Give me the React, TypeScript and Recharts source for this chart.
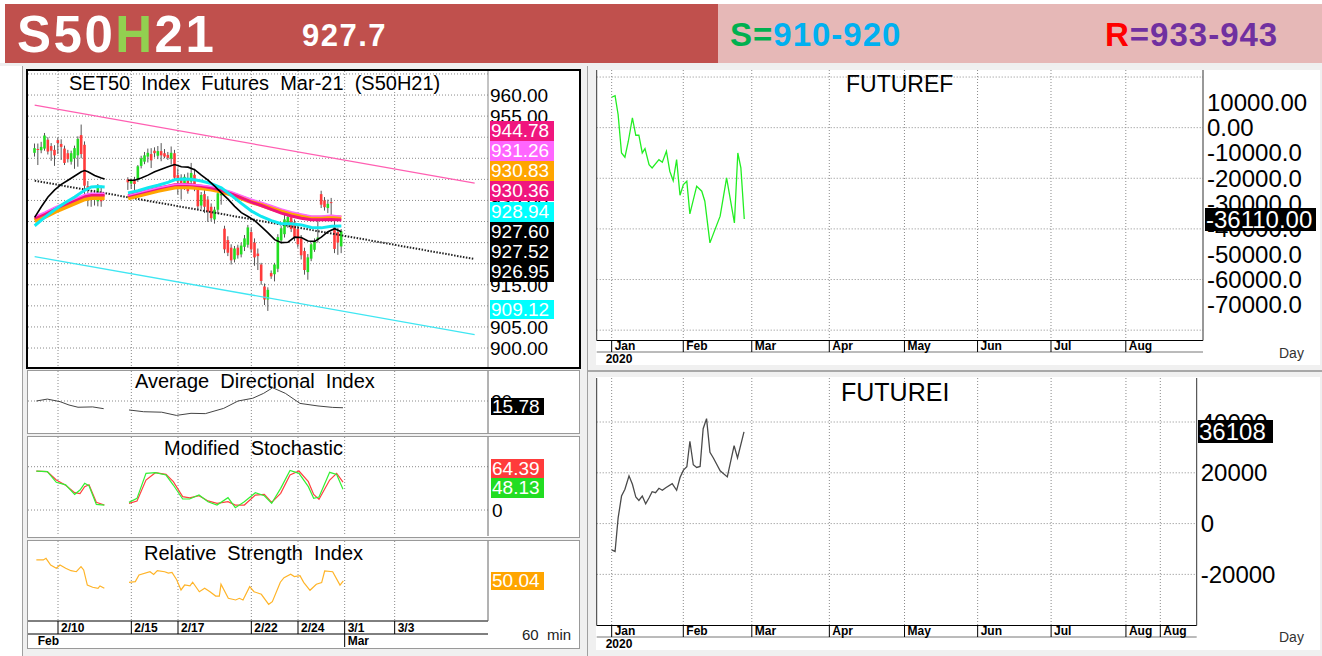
import React from 'react';
import { ComposedChart, Line, Bar, XAxis, YAxis, CartesianGrid } from 'recharts';

const FONT = '"Liberation Sans", Arial, Helvetica, sans-serif';

// ---------- 60 min panel (x = bar number) ----------
const dateTicks = [7, 29, 43, 65, 79, 93, 108];
const dateLabels = ['2/10', '2/15', '2/17', '2/22', '2/24', '3/1', '3/3'];
const monthTicks = [0, 93];
const monthLabels = ['Feb', 'Mar'];
const priceTicks = [900, 905, 910, 915, 920, 925, 930, 935, 940, 945, 950, 955, 960];
const priceGrid = [900, 905, 910, 915, 920, 925, 930, 935, 940, 945, 950, 955, 960, 965];

// [bar, open, high, low, close]
const candles = [
  [0, 946.3, 948.5, 945.4, 947.4], [1, 947.2, 948.5, 943.4, 947.0], [2, 946.9, 948.9, 946.2, 947.7],
  [3, 947.3, 951.0, 946.8, 950.4], [4, 949.4, 950.0, 945.9, 946.6], [5, 947.9, 948.6, 944.4, 946.8],
  [6, 947.0, 948.1, 943.2, 945.7], [7, 949.3, 949.9, 946.0, 948.6], [8, 948.4, 949.5, 944.6, 947.7],
  [9, 947.3, 948.0, 943.4, 943.9], [10, 946.2, 947.0, 944.0, 944.8], [11, 944.2, 946.8, 943.5, 946.2],
  [12, 945.0, 948.0, 942.5, 947.4], [13, 945.7, 950.2, 943.0, 949.6], [14, 950.5, 953.0, 945.0, 946.0],
  [15, 948.2, 949.0, 936.5, 938.5], [16, 938.4, 939.6, 933.6, 937.6], [17, 935.2, 937.5, 933.5, 936.0],
  [18, 936.4, 937.5, 933.8, 935.4], [19, 934.8, 938.9, 933.6, 938.2], [20, 937.0, 938.5, 933.5, 934.8],
  [28, 940.0, 940.5, 937.5, 939.3], [29, 939.0, 940.2, 937.8, 939.8], [30, 939.6, 940.6, 937.3, 938.9],
  [31, 939.9, 943.4, 939.4, 943.1], [32, 943.2, 945.6, 942.6, 945.0], [33, 944.2, 946.5, 943.6, 945.7],
  [34, 945.4, 947.3, 944.0, 946.3], [35, 946.0, 947.4, 942.7, 944.5], [36, 946.8, 947.6, 945.2, 946.2],
  [37, 945.6, 947.9, 944.8, 946.7], [38, 946.7, 948.6, 944.3, 945.7], [39, 946.2, 947.2, 945.0, 945.4],
  [40, 945.8, 946.5, 944.6, 945.1], [41, 944.9, 947.8, 943.5, 946.3], [42, 946.2, 947.0, 940.0, 940.4],
  [43, 941.0, 942.6, 936.4, 939.5], [44, 940.4, 941.2, 935.2, 939.1], [45, 938.7, 941.2, 937.5, 940.6],
  [46, 940.3, 941.6, 936.6, 937.2], [47, 939.5, 943.9, 938.7, 941.5], [48, 941.1, 942.5, 937.2, 937.9],
  [49, 937.9, 938.6, 932.8, 933.6], [50, 933.8, 937.0, 933.0, 936.3], [51, 936.5, 937.8, 932.0, 933.5],
  [52, 935.2, 936.0, 929.9, 932.3], [53, 933.5, 934.3, 930.0, 930.8], [54, 930.5, 933.5, 929.5, 932.8],
  [55, 932.8, 937.2, 931.8, 936.7], [56, 936.2, 937.5, 934.0, 936.6], [57, 928.3, 929.0, 922.5, 923.4],
  [58, 925.6, 926.5, 921.8, 922.6], [59, 923.8, 924.6, 919.8, 920.8], [60, 921.0, 924.2, 920.3, 923.6],
  [61, 923.8, 924.5, 921.2, 922.0], [62, 922.2, 925.0, 921.5, 924.3], [63, 924.0, 926.8, 923.0, 926.0],
  [64, 924.5, 929.2, 923.8, 928.6], [65, 927.5, 928.5, 922.6, 923.4], [66, 925.0, 926.0, 919.5, 921.5],
  [67, 922.4, 923.6, 918.5, 921.8], [68, 919.8, 920.2, 915.0, 915.9], [69, 914.6, 915.3, 910.2, 911.5],
  [70, 911.5, 914.4, 908.8, 913.8], [71, 917.8, 918.4, 916.4, 917.0], [72, 917.5, 920.2, 915.8, 919.8],
  [73, 918.8, 927.0, 918.0, 926.3], [74, 925.5, 928.9, 924.8, 928.4], [75, 927.0, 931.6, 926.2, 930.5],
  [76, 929.3, 931.8, 928.5, 931.1], [77, 931.0, 931.6, 927.5, 928.2], [78, 929.8, 930.5, 925.4, 926.2],
  [79, 928.2, 929.0, 923.8, 924.6], [80, 926.0, 926.8, 921.0, 922.0], [81, 923.0, 923.8, 917.4, 918.5],
  [82, 918.0, 922.3, 916.2, 921.5], [83, 921.2, 925.0, 920.6, 924.6], [84, 923.3, 926.0, 922.8, 925.2],
  [85, 925.8, 931.0, 925.0, 926.2], [86, 936.5, 937.3, 933.2, 934.0], [87, 935.0, 935.8, 932.6, 933.4],
  [88, 933.2, 935.2, 932.0, 934.2], [89, 934.6, 935.6, 930.0, 934.4], [90, 929.0, 930.5, 922.5, 923.5],
  [91, 927.5, 928.5, 922.1, 925.0], [92, 924.1, 928.2, 922.5, 927.7],
];

// moving averages, [bar, value]; null marks the holiday gap
const maBlack = [
  [0, 931], [2, 933.5], [4, 935.8], [6, 937.5], [8, 938.8], [10, 939.8], [12, 940.8], [14, 941.8], [15, 942.1],
  [16, 941.8], [18, 940.9], [20, 940.3], [21, 940.1], [24, null],
  [28, 939.8], [30, 939.8], [32, 940.3], [34, 941], [36, 941.8], [38, 942.4], [40, 943], [42, 943.5], [44, 943],
  [46, 942.9], [48, 942.3], [50, 941], [52, 939.8], [54, 938.4], [56, 936.8], [58, 935.3], [60, 933.6], [62, 932.1],
  [64, 931.2], [66, 930.2], [68, 928.8], [70, 927.3], [72, 925.7], [74, 925], [76, 925.1], [78, 926.3], [80, 926.2],
  [82, 925.4], [84, 925.3], [86, 926.3], [88, 927.6], [90, 928.3], [92, 927.6],
];
const maCyan = [
  [0, 929], [3, 931], [6, 932.8], [9, 934.4], [12, 935.8], [15, 937.4], [17, 938.2], [19, 938.3], [21, 938.2], [24, null],
  [28, 936.8], [31, 937.3], [34, 938], [37, 938.6], [40, 939.3], [42, 939.9], [44, 940.1], [47, 940], [50, 939.6],
  [53, 939], [56, 938], [59, 936.2], [62, 934.3], [65, 932.5], [68, 931.2], [71, 930.2], [74, 929.5], [77, 929.5],
  [80, 929.2], [83, 928.6], [86, 928.5], [89, 928.9], [92, 928.94],
];
const maOrange = [
  [0, 930.2], [3, 931.2], [6, 932.4], [9, 933.4], [12, 934.4], [15, 935.4], [17, 935.7], [19, 935.7], [21, 935.7], [24, null],
  [28, 935.6], [31, 936.2], [34, 936.8], [37, 937.4], [40, 937.9], [42, 938.2], [44, 938.3], [47, 938.2], [50, 938],
  [53, 937.7], [56, 937.2], [59, 936.5], [62, 935.6], [65, 934.7], [68, 934], [71, 933.2], [74, 932.4], [77, 931.7],
  [80, 931.2], [83, 930.8], [86, 930.8], [89, 931], [92, 930.83],
];
const maMagenta = [
  [0, 930.8], [3, 931.8], [6, 933], [9, 934], [12, 935], [15, 936], [17, 936.3], [19, 936.3], [21, 936.3], [24, null],
  [28, 936.1], [31, 936.7], [34, 937.3], [37, 937.9], [40, 938.4], [42, 938.7], [44, 938.8], [47, 938.7], [50, 938.4],
  [53, 938], [56, 937.4], [59, 936.6], [62, 935.6], [65, 934.6], [68, 933.8], [71, 932.9], [74, 932], [77, 931.3],
  [80, 930.8], [83, 930.4], [86, 930.4], [89, 930.5], [92, 930.36],
];
const maViolet = [
  [0, 931.2], [3, 932.2], [6, 933.4], [9, 934.4], [12, 935.4], [15, 936.4], [17, 936.7], [19, 936.7], [21, 936.7], [24, null],
  [28, 936.2], [31, 936.8], [34, 937.4], [37, 938], [40, 938.5], [42, 938.8], [44, 938.9], [47, 938.8], [50, 938.6],
  [53, 938.3], [56, 937.8], [59, 937.1], [62, 936.2], [65, 935.3], [68, 934.6], [71, 933.8], [74, 933], [77, 932.3],
  [80, 931.8], [83, 931.3], [86, 931.3], [89, 931.5], [92, 931.26],
];
const channelUp = [[0, 957.6], [132, 939.1]];
const channelMid = [[0, 939.7], [132, 921.1]];
const channelLow = [[0, 921.7], [132, 903.2]];

const mainTagValues = ['944.78', '931.26', '930.83', '930.36', '928.94', '927.60', '927.52', '926.95'];

// ADX [bar, value]
const adx = [
  [0.5, 20], [3.8, 21.2], [7.6, 19.6], [10.3, 17.5], [13, 16.1], [17.4, 16.3], [20.7, 15.2], [24, null],
  [28.3, 14.4], [32.7, 13.3], [38.1, 13], [42.5, 11], [46.9, 12.3], [51.2, 12.1], [56.7, 15.4], [61, 20],
  [65.4, 21.7], [68.7, 24.8], [71.4, 28.3], [75.2, 24.8], [79.6, 18.5], [85, 16.9], [89.4, 16], [92.5, 15.78],
];

// modified stochastic [bar, slow(red), fast(green)]
const stoch = [
  [0.5, 90, 90], [3.8, 88.5, 88.5], [6.5, 69.3, 63.9], [9.3, 57, 58], [12, 40, 36.2], [13.6, 38, 46],
  [15, 53.9, 61.6], [16.3, 58.5, 56], [18.5, 17.7, 13], [20.9, 11.5, 11.5], [24, null, null],
  [28.3, 15.4, 17.7], [30.7, 20.8, 26.9], [33.4, 69.3, 84.6], [36.2, 86.2, 86.2], [39.4, 82.3, 80.8],
  [41.6, 65.4, 57.7], [44.4, 30.8, 25.4], [46.5, 28, 25.4], [49.3, 33, 34.6], [52, 21, 19.2], [54.7, 15.4, 11.5],
  [58, 19.2, 28.5], [60.2, 11.5, 5.4], [62.9, 11.5, 19], [66.2, 34.6, 40], [68.9, 36, 33], [71.1, 17.7, 15.5],
  [73.8, 38.5, 50], [76.6, 80.8, 91.5], [79.3, 90, 84.6], [82.1, 65.4, 53.9], [83.7, 36, 26.9], [85.3, 24.6, 30],
  [88.5, 69.3, 87], [90.6, 84.6, 82], [92.5, 64.39, 48.13],
];

// RSI [bar, value]
const rsi = [
  [0.5, 70.4], [2.6, 70.4], [3.4, 72], [4.8, 65.5], [6.5, 62.3], [7.6, 65.5], [9.3, 62.3], [10.9, 60], [12.5, 59],
  [13.9, 63.9], [14.7, 60.7], [15.8, 46.1], [17.4, 43.9], [19, 42.9], [19.6, 45.2], [20.9, 42.9], [24, null],
  [28.3, 48.7], [30.2, 49.4], [31.3, 55.8], [34.6, 59], [35.7, 56.4], [36.8, 60], [39, 59], [40.1, 57.7],
  [41.2, 58.3], [42.6, 51.3], [43.9, 41.3], [45, 46.1], [46.6, 45.2], [47.4, 48.8], [49.4, 39.6], [51, 42.9],
  [52.6, 39.6], [54.3, 35.4], [55.4, 35.4], [55.9, 46.8], [58.1, 33.2], [60.3, 31.6], [61.4, 33.2], [62.5, 31.6],
  [64.5, 44.5], [65.8, 39.6], [68, 37.1], [70.2, 27.4], [71.3, 30], [73.7, 48.8], [74.8, 53.2], [76.8, 56.5],
  [77.9, 54.3], [79.6, 55.2], [80.7, 48.7], [82.6, 41], [84.5, 46.8], [86.1, 48.4], [87, 59.7], [89.4, 59],
  [91.6, 46], [92.6, 50.04],
];

// ---------- daily panels (x = trading day from 1 Jan 2020) ----------
const dayTicks = [0, 21.06, 41.2, 64, 86.1, 107.6, 129.2, 151.2];
const dayLabels = ['Jan', 'Feb', 'Mar', 'Apr', 'May', 'Jun', 'Jul', 'Aug'];
const dayTicksI = [0, 21.06, 41.2, 64, 86.1, 107.6, 129.2, 151.2, 161.3];
const dayLabelsI = ['Jan', 'Feb', 'Mar', 'Apr', 'May', 'Jun', 'Jul', 'Aug', 'Aug'];

const futureF = [
  [0, 12000], [1, 12630], [1.9, 5130], [2.9, -9990], [3.9, -11690], [4.9, -5370], [6.1, 3830], [7.1, -3000],
  [8, -3000], [9, -9990], [9.8, -8290], [11, -14600], [11.9, -15910], [13.9, -12630], [14.9, -13660],
  [16.1, -9320], [17.1, -17210], [18.1, -20920], [19.1, -12630], [20.1, -26690], [21.1, -22500], [22.1, -21160],
  [23, -34070], [25, -23130], [26.5, -25110], [27.4, -29060], [28.9, -45520], [29.9, -41970], [31.9, -34980],
  [33.8, -19860], [36.1, -37620], [37.1, -9990], [38, -15910], [39, -36110],
];
const futureFTicks = [10000, 0, -10000, -20000, -30000, -40000, -50000, -60000, -70000];
const futureFGrid = [20000, 0, -20000, -40000, -60000, -80000];

const futureI = [
  [0, -10330], [1, -11000], [1.9, 2220], [2.9, 10850], [3.9, 13510], [5.1, 18790], [6.1, 15490], [7.1, 10450],
  [8, 9140], [9, 10850], [10, 7790], [11, 10170], [11.9, 12560], [12.9, 12160], [13.9, 13910], [14.9, 13110],
  [15.9, 14140], [17.8, 15730], [19.1, 13110], [20.1, 18120], [21.1, 21060], [22.1, 22370], [23, 32420],
  [24, 23160], [25, 22090], [26, 22490], [26.9, 37350], [27.9, 41320], [28.9, 28050], [29.9, 25820],
  [31.9, 20780], [34, 18390], [36, 30710], [37, 25820], [38.9, 36108],
];
const futureITicks = [40000, 20000, 0, -20000];

const pairs = (arr: any[]) => arr.map(([i, v]) => ({ i, v }));
const candleRows = candles.map(([i, o, h, l, c]) => ({ i, o, h, l, c }));
const stochRows = stoch.map(([i, r, g]) => ({ i, r, g }));

const Candle = (props: any) => {
  const { x, y, width, height, payload } = props;
  if (!payload || payload.h === payload.l) return null;
  const top = Math.min(y, y + height);
  const hgt = Math.abs(height);
  const ppu = hgt / (payload.h - payload.l);
  const cx = x + width / 2;
  const bTop = top + (payload.h - Math.max(payload.o, payload.c)) * ppu;
  const bH = Math.max(1, Math.abs(payload.o - payload.c) * ppu);
  const up = payload.c >= payload.o;
  return (
    <g>
      <line x1={cx} x2={cx} y1={top} y2={top + hgt} stroke="#555" strokeWidth={1} />
      <rect x={cx - 1.3} y={bTop} width={2.6} height={bH} fill={up ? '#22DD22' : '#FF3B3B'} />
    </g>
  );
};

const SepTick = (props: any) => {
  const { x, y, payload, ticks, labels, h, line = true } = props;
  const k = ticks.indexOf(payload.value);
  return (
    <g>
      {line && <line x1={x} x2={x} y1={y} y2={y + h} stroke="#000" strokeWidth={1} />}
      <text x={x + 3} y={y + h - 2} fontSize={12} fontWeight="bold" fill="#000" fontFamily={FONT}>
        {labels[k]}
      </text>
    </g>
  );
};

const Box = ({ left, top, w, h, bg, children, size = 19 }: any) => (
  <div style={{ position: 'absolute', left, top, width: w, height: h, background: bg, color: '#fff', fontSize: size, lineHeight: h + 'px', paddingLeft: 1, boxSizing: 'border-box', whiteSpace: 'nowrap' }}>
    {children}
  </div>
);

const Txt = ({ left, top, size, children, style }: any) => (
  <div style={{ position: 'absolute', left, top, fontSize: size, lineHeight: size + 'px', whiteSpace: 'pre', color: '#000', ...style }}>
    {children}
  </div>
);

const grid = { stroke: '#8a8a8a', strokeDasharray: '1 2' };
const noMargin = { top: 0, right: 0, bottom: 0, left: 0 };

function MainChart() {
  return (
    <ComposedChart width={551} height={296} data={candleRows} margin={noMargin}>
      <CartesianGrid {...grid} horizontalValues={priceGrid} verticalValues={dateTicks} />
      <XAxis dataKey="i" type="number" domain={[-2, 136]} allowDataOverflow hide ticks={dateTicks} />
      <YAxis orientation="right" width={91} domain={[895.5, 965.7]} allowDataOverflow ticks={priceTicks} interval={0}
        tickFormatter={(v: number) => v.toFixed(2)} tick={{ fontSize: 19, fill: '#000', fontFamily: FONT, textAnchor: 'start' }}
        tickLine={false} tickSize={0} tickMargin={2} axisLine={{ stroke: '#888' }} />
      <Line data={pairs(channelUp)} dataKey="v" stroke="#FF5FB2" strokeWidth={1.3} dot={false} isAnimationActive={false} />
      <Line data={pairs(channelLow)} dataKey="v" stroke="#3FE6F2" strokeWidth={1.3} dot={false} isAnimationActive={false} />
      <Line data={pairs(channelMid)} dataKey="v" stroke="#222" strokeWidth={2} strokeDasharray="1.5 1.5" dot={false} isAnimationActive={false} />
      <Bar dataKey={(d: any) => [d.l, d.h]} barSize={3} shape={(p: any) => <Candle {...p} />} isAnimationActive={false} />
      <Line data={pairs(maOrange)} dataKey="v" stroke="#FFA500" strokeWidth={5} dot={false} isAnimationActive={false} />
      <Line data={pairs(maMagenta)} dataKey="v" stroke="#F0147D" strokeWidth={3} dot={false} isAnimationActive={false} />
      <Line data={pairs(maViolet)} dataKey="v" stroke="#FF66FF" strokeWidth={1.5} dot={false} isAnimationActive={false} />
      <Line data={pairs(maCyan)} dataKey="v" stroke="#10E8F0" strokeWidth={3} dot={false} isAnimationActive={false} />
      <Line data={pairs(maBlack)} dataKey="v" stroke="#000" strokeWidth={1.6} dot={false} isAnimationActive={false} />
    </ComposedChart>
  );
}

function AdxChart() {
  return (
    <ComposedChart width={551} height={62} data={pairs(adx)} margin={noMargin}>
      <CartesianGrid {...grid} horizontalValues={[20]} verticalValues={dateTicks} />
      <XAxis dataKey="i" type="number" domain={[-2, 136]} allowDataOverflow hide ticks={dateTicks} />
      <YAxis orientation="right" width={91} domain={[0, 38.75]} allowDataOverflow ticks={[20]} interval={0}
        tick={{ fontSize: 19, fill: '#000', fontFamily: FONT, textAnchor: 'start' }} tickLine={false} tickSize={0} tickMargin={3} axisLine={{ stroke: '#666' }} />
      <Line dataKey="v" stroke="#444" strokeWidth={1} dot={false} isAnimationActive={false} />
    </ComposedChart>
  );
}

function StochChart() {
  return (
    <ComposedChart width={551} height={99} data={stochRows} margin={noMargin}>
      <CartesianGrid {...grid} horizontalValues={[0, 100]} verticalValues={dateTicks} />
      <XAxis dataKey="i" type="number" domain={[-2, 136]} allowDataOverflow hide ticks={dateTicks} />
      <YAxis orientation="right" width={91} domain={[-60, 168.6]} allowDataOverflow ticks={[0]} interval={0}
        tick={{ fontSize: 19, fill: '#000', fontFamily: FONT, textAnchor: 'start' }} tickLine={false} tickSize={0} tickMargin={4} axisLine={{ stroke: '#666' }} />
      <Line dataKey="r" stroke="#FF4040" strokeWidth={1.2} dot={false} isAnimationActive={false} />
      <Line dataKey="g" stroke="#33F033" strokeWidth={1.2} dot={false} isAnimationActive={false} />
    </ComposedChart>
  );
}

function RsiChart() {
  return (
    <ComposedChart width={551} height={106} data={pairs(rsi)} margin={noMargin}>
      <CartesianGrid {...grid} xAxisId="d" horizontalValues={[50]} verticalValues={dateTicks} />
      <XAxis xAxisId="d" dataKey="i" type="number" domain={[-2, 136]} allowDataOverflow ticks={dateTicks} interval={0} height={13}
        tickSize={0} tickMargin={0} tickLine={false} axisLine={{ stroke: '#000' }}
        tick={(p: any) => <SepTick {...p} ticks={dateTicks} labels={dateLabels} h={13} />} />
      <XAxis xAxisId="m" dataKey="i" type="number" domain={[-2, 136]} allowDataOverflow ticks={monthTicks} interval={0} height={13}
        tickSize={0} tickMargin={0} tickLine={false} axisLine={{ stroke: '#000' }}
        tick={(p: any) => <SepTick {...p} ticks={monthTicks} labels={monthLabels} h={13} line={p.payload.value !== 0} />} />
      <YAxis orientation="right" width={91} domain={[11.2, 88.8]} allowDataOverflow ticks={[50]} tick={false} tickLine={false} axisLine={{ stroke: '#666' }} />
      <Line xAxisId="d" dataKey="v" stroke="#FFB428" strokeWidth={1.2} dot={false} isAnimationActive={false} />
    </ComposedChart>
  );
}

function DailyChart({ data, color, height, domain, ticks, fmt, grid: gv, xTicks, xLabels, xMax, yWidth }: any) {
  return (
    <ComposedChart width={730} height={height} data={pairs(data)} margin={{ top: 2, right: 0, bottom: 0, left: 6.7 }}>
      <CartesianGrid {...grid} xAxisId="m" yAxisId="r" horizontalValues={gv} verticalValues={xTicks} />
      <XAxis xAxisId="m" dataKey="i" type="number" domain={[-4.4, xMax]} allowDataOverflow ticks={xTicks} interval={0} height={11.5}
        tickSize={0} tickMargin={0} tickLine={false} axisLine={{ stroke: '#000' }}
        tick={(p: any) => <SepTick {...p} ticks={xTicks} labels={xLabels} h={11.5} />} />
      <XAxis xAxisId="y" dataKey="i" type="number" domain={[-4.4, xMax]} allowDataOverflow ticks={[0]} interval={0} height={13}
        tickSize={0} tickMargin={0} tickLine={false} axisLine={{ stroke: '#777' }}
        tick={(p: any) => <text x={p.x - 6} y={p.y + 11} fontSize={12} fontWeight="bold" fill="#000" fontFamily={FONT}>2020</text>} />
      <YAxis yAxisId="l" orientation="left" mirror width={6} domain={domain} allowDataOverflow ticks={ticks} interval={0}
        tick={false} tickSize={3} tickLine={{ stroke: '#333' }} axisLine={{ stroke: '#333' }} />
      <YAxis yAxisId="r" orientation="right" width={yWidth} domain={domain} allowDataOverflow ticks={ticks} interval={0}
        tickFormatter={fmt} tick={{ fontSize: 24, fill: '#000', fontFamily: FONT, textAnchor: 'start' }}
        tickLine={false} tickSize={0} tickMargin={4} axisLine={{ stroke: '#333' }} />
      <Line xAxisId="m" yAxisId="r" dataKey="v" stroke={color} strokeWidth={1.3} dot={false} isAnimationActive={false} />
    </ComposedChart>
  );
}

const fmtF = (v: number) => (v === 10000 ? '10000.00' : v === 0 ? '0.00' : v.toFixed(1));

export default function App() {
  return (
    <div style={{ position: 'absolute', left: 0, top: 0, width: 1322, height: 656, background: '#fff', fontFamily: FONT, overflow: 'hidden' }}>
      {/* header */}
      <div style={{ position: 'absolute', left: 5, top: 4, width: 713, height: 59, background: '#C0504D' }} />
      <div style={{ position: 'absolute', left: 718, top: 4, width: 604, height: 59, background: '#E6B8B7' }} />
      <Txt left={17} top={9} size={51} style={{ fontWeight: 'bold', color: '#fff', letterSpacing: 2.5 }}>
        S50<span style={{ color: '#92D050' }}>H</span>21
      </Txt>
      <Txt left={302} top={20} size={31} style={{ fontWeight: 'bold', color: '#fff', letterSpacing: 1.5 }}>927.7</Txt>
      <Txt left={730} top={18} size={33} style={{ fontWeight: 'bold', letterSpacing: 1 }}>
        <span style={{ color: '#00B050' }}>S=</span><span style={{ color: '#00B0F0' }}>910-920</span>
      </Txt>
      <Txt left={1105} top={18} size={33} style={{ fontWeight: 'bold', letterSpacing: 1 }}>
        <span style={{ color: '#FF0000' }}>R</span><span style={{ color: '#7030A0' }}>=933-943</span>
      </Txt>
      <div style={{ position: 'absolute', left: 0, top: 63, width: 1322, height: 3, background: '#EFEFEF' }} />

      {/* left frame */}
      <div style={{ position: 'absolute', left: 22, top: 66, width: 566, height: 590, background: '#F0F0F0', borderLeft: '1px solid #A0A0A0', borderRight: '1px solid #A0A0A0', boxSizing: 'border-box' }} />
      <div style={{ position: 'absolute', left: 26, top: 69, width: 555, height: 300, border: '2px solid #000', background: '#fff', boxSizing: 'border-box' }} />
      <div style={{ position: 'absolute', left: 27, top: 370, width: 553, height: 64, border: '1px solid #999', background: '#fff', boxSizing: 'border-box' }} />
      <div style={{ position: 'absolute', left: 27, top: 436, width: 553, height: 102, border: '1px solid #999', background: '#fff', boxSizing: 'border-box' }} />
      <div style={{ position: 'absolute', left: 27, top: 540, width: 553, height: 109, border: '1px solid #999', background: '#fff', boxSizing: 'border-box' }} />

      {/* right frames */}
      <div style={{ position: 'absolute', left: 588, top: 66, width: 734, height: 590, background: '#F0F0F0' }} />
      <div style={{ position: 'absolute', left: 596, top: 70, width: 724, height: 295, background: '#fff' }} />
      <div style={{ position: 'absolute', left: 588, top: 370, width: 734, height: 2, background: '#A8A8A8' }} />
      <div style={{ position: 'absolute', left: 596, top: 377, width: 724, height: 273, background: '#fff' }} />

      <div style={{ position: 'absolute', left: 28, top: 71 }}><MainChart /></div>
      <div style={{ position: 'absolute', left: 28, top: 371 }}><AdxChart /></div>
      <div style={{ position: 'absolute', left: 28, top: 437 }}><StochChart /></div>
      <div style={{ position: 'absolute', left: 28, top: 541 }}><RsiChart /></div>
      <div style={{ position: 'absolute', left: 590, top: 68 }}>
        <DailyChart data={futureF} color="#22EE22" height={297} domain={[-84090, 22780]} ticks={futureFTicks} fmt={fmtF}
          grid={futureFGrid} xTicks={dayTicks} xLabels={dayLabels} xMax={173.9} yWidth={117} />
      </div>
      <div style={{ position: 'absolute', left: 590, top: 376 }}>
        <DailyChart data={futureI} color="#4A4A4A" height={274} domain={[-40130, 57330]} ticks={futureITicks} fmt={(v: number) => String(v)}
          grid={futureITicks} xTicks={dayTicksI} xLabels={dayLabelsI} xMax={172} yWidth={123.3} />
      </div>

      {/* titles */}
      <Txt left={69} top={73} size={20}>SET50  Index  Futures  Mar-21  (S50H21)</Txt>
      <Txt left={135} top={371} size={20}>Average  Directional  Index</Txt>
      <Txt left={164} top={438} size={20}>Modified  Stochastic</Txt>
      <Txt left={144} top={543} size={20}>Relative  Strength  Index</Txt>
      <Txt left={846} top={73} size={23}>FUTUREF</Txt>
      <Txt left={841} top={380} size={25}>FUTUREI</Txt>
      <Txt left={522} top={627} size={15} style={{ color: '#222' }}>60  min</Txt>
      <Txt left={1279} top={346} size={14} style={{ color: '#333' }}>Day</Txt>
      <Txt left={1279} top={630} size={14} style={{ color: '#333' }}>Day</Txt>

      {/* last-value tags */}
      {mainTagValues.map((t, k) => (
        <Box key={t} left={490} top={121 + k * 20.15} w={64} h={20} bg={['#F0167E', '#FF66FF', '#FFA500', '#F0167E', '#00FFFF', '#000', '#000', '#000'][k]}>{t}</Box>
      ))}
      <Box left={490} top={300} w={64} h={19} bg="#00FFFF">909.12</Box>
      <Box left={491} top={398} w={53} h={17} bg="#000">15.78</Box>
      <Box left={491} top={459} w={53} h={19} bg="#FF3B3B">64.39</Box>
      <Box left={491} top={478} w={53} h={20} bg="#22DD22">48.13</Box>
      <Box left={491} top={572} w={53} h={18} bg="#FFA500">50.04</Box>
      <Box left={1205} top={208} w={111} h={23} bg="#000" size={24}>-36110.00</Box>
      <Box left={1198} top={420} w={75} h={23} bg="#000" size={24}>36108</Box>
    </div>
  );
}
